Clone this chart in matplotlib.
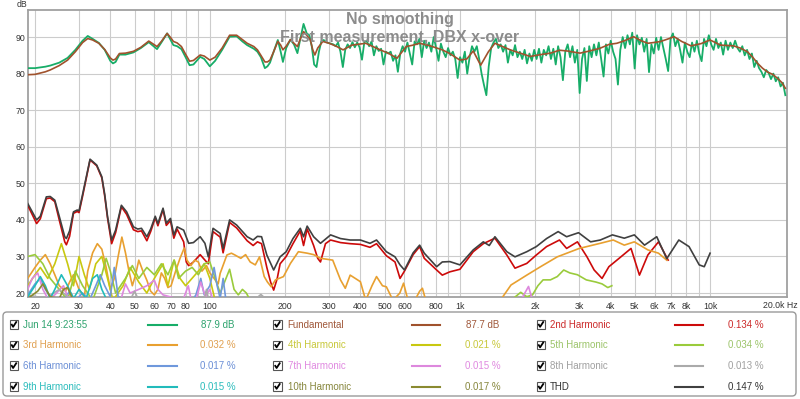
import numpy as np
import matplotlib.pyplot as plt
from matplotlib.patches import FancyBboxPatch, Rectangle

plt.rcParams['font.family'] = ['Liberation Sans', 'DejaVu Sans']

# ---------------- data ----------------
# measurement (raw, no smoothing): smooth low end + noisy upper band
meas_lf_hz = [18.7, 20, 22, 23, 25, 27, 29, 31, 32.5, 34,
              36, 38, 40, 41, 42, 43.5, 46, 49.5, 53, 57,
              61.5, 64, 67.5, 70, 71.5, 74, 77, 80, 83, 86,
              91.5, 95, 100, 105, 112, 120, 128, 135, 141, 150,
              155, 160, 166, 170, 174, 180, 187, 192, 196, 202,
              210, 217, 224, 230, 237, 244]
meas_lf_db = [81.5, 81.5, 81.9, 82.2, 83.0, 84.3, 86.5, 89.0, 90.3, 89.5,
              88.4, 86.5, 83.5, 82.8, 83.2, 85.2, 85.2, 85.8, 87.0, 88.6,
              86.7, 88.5, 91.0, 89.0, 87.8, 87.5, 86.7, 84.5, 82.3, 82.5,
              84.6, 84.0, 82.0, 83.5, 86.5, 90.1, 90.2, 88.8, 87.8, 86.8,
              86.0, 84.5, 81.5, 82.0, 83.0, 86.0, 89.2, 86.0, 83.2, 87.0,
              89.3, 88.0, 85.6, 89.5, 93.6, 91.0]
# 250 Hz .. 20 kHz, log spaced samples
meas_hf_db = [90.5, 87.5, 82.5, 81.8, 86.0, 88.8, 89.2, 88.6, 88.4, 88.2,
              88.0, 87.5, 88.5, 86.0, 81.8, 86.5, 88.0, 87.0, 88.6, 87.2,
              88.5, 87.2, 83.8, 88.7, 88.9, 87.5, 88.8, 85.0, 87.5, 86.2,
              86.8, 82.5, 86.0, 85.5, 86.0, 83.5, 85.0, 80.5, 85.5, 87.5,
              86.0, 88.5, 85.5, 82.5, 88.8, 88.0, 89.5, 84.5, 89.0, 87.0,
              88.5, 86.0, 90.0, 87.0, 83.5, 88.2, 86.0, 84.5, 87.0, 85.0,
              86.0, 84.0, 78.8, 84.5, 83.0, 86.0, 80.0, 84.5, 87.5, 86.0,
              87.5, 84.0, 80.0, 76.9, 74.1, 82.0, 87.0, 88.5, 89.5, 87.0,
              88.0, 86.0, 87.8, 83.0, 86.5, 85.0, 87.8, 84.5, 86.0, 84.0,
              86.5, 82.8, 85.5, 83.5, 86.5, 84.0, 86.8, 83.0, 86.5, 85.0,
              87.5, 84.0, 86.8, 82.5, 87.5, 84.5, 78.2, 86.0, 88.0, 84.5,
              87.5, 83.0, 86.5, 74.7, 84.0, 87.0, 78.0, 87.5, 84.5, 88.0,
              85.0, 88.5, 84.0, 79.2, 88.0, 85.5, 89.0, 86.0, 84.0, 77.0,
              86.5, 90.0, 87.0, 90.5, 88.0, 91.2, 81.4, 90.5, 88.0, 89.8,
              86.0, 89.5, 80.4, 88.0, 85.5, 89.8, 86.5, 90.0, 87.0, 84.0,
              80.7, 89.5, 91.0, 87.5, 89.5, 86.5, 83.0, 88.5, 86.0, 84.5,
              88.5, 86.0, 89.0, 85.5, 83.4, 89.5, 87.5, 90.5, 88.0, 86.5,
              89.5, 87.0, 88.5, 85.2, 89.0, 86.5, 88.5, 87.0, 89.0, 87.0,
              86.0, 87.5, 85.0, 86.5, 84.0, 85.5, 81.8, 83.5, 81.5, 80.5,
              79.0, 81.0, 80.2, 78.5, 80.0, 77.9, 79.0, 76.5, 77.5, 74.1]

fund_hz = [18.7, 20, 22, 23, 25, 27, 29, 31, 32.5, 34,
           36, 38, 40, 41, 42, 43.5, 46, 49.5, 53, 57,
           61.5, 64, 67.5, 70, 71.5, 74, 77, 80, 83, 86,
           91.5, 95, 100, 105, 112, 120, 128, 135, 141, 150,
           155, 160, 166, 170, 174, 180, 187, 192, 196, 202,
           210, 217, 224, 230, 237, 244, 252, 258, 263, 270,
           283, 300, 320, 341, 370, 420, 480, 520, 560, 610,
           650, 690, 760, 850, 910, 1000, 1065, 1130, 1210, 1300,
           1380, 1590, 1760, 1910, 2100, 2300, 2500, 2680, 3020, 3300,
           3620, 3950, 4240, 4550, 4950, 5300, 5640, 6100, 6350, 6800,
           7180, 7700, 8390, 9200, 10000, 10500, 11000, 12400, 13200, 14100,
           14800, 15500, 16200, 17000, 17800, 18700, 19400, 20000]
fund_db = [79.7, 79.8, 80.5, 81.0, 82.2, 83.7, 86.0, 88.5, 89.6, 89.2,
           88.3, 86.6, 84.3, 83.7, 84.0, 85.5, 85.6, 86.1, 87.2, 88.9,
           87.4, 88.8, 91.0, 89.7, 88.8, 88.4, 87.4, 85.3, 83.4, 83.6,
           85.1, 84.8, 83.7, 84.5, 87.0, 90.5, 90.5, 89.3, 88.3, 87.4,
           86.5, 85.0, 83.2, 83.2, 83.7, 86.0, 88.8, 87.8, 86.5, 87.5,
           89.3, 88.3, 87.4, 89.5, 91.5, 90.5, 89.3, 86.5, 85.1, 87.0,
           88.8, 88.3, 87.5, 86.5, 87.8, 88.3, 86.5, 85.5, 84.2, 87.4,
           87.8, 88.3, 87.6, 86.5, 85.5, 83.7, 84.0, 86.2, 82.3, 86.0,
           88.3, 86.5, 85.5, 84.7, 85.2, 85.6, 86.4, 86.2, 85.6, 86.2,
           86.9, 88.0, 88.3, 89.0, 90.1, 89.0, 88.3, 88.6, 88.8, 89.5,
           90.1, 88.8, 87.6, 88.2, 89.2, 88.5, 87.8, 87.6, 87.0, 86.0,
           84.5, 82.8, 81.5, 80.4, 79.8, 78.6, 77.5, 76.0]

thd_hz = [18.7, 20.3, 21, 22.2, 23, 24, 25, 26.3, 26.7, 27.5,
          28.5, 29.5, 30, 31, 33.2, 35.3, 37, 38, 39, 40.5,
          42, 44.3, 46.5, 49.5, 51.5, 53.3, 56, 58, 60.5, 62,
          65, 67, 69.6, 71.8, 74, 78.6, 82.3, 86, 91.5, 95.6,
          98.6, 103, 110, 113, 120, 128, 141, 149, 155, 161,
          169, 180, 191, 202, 215, 230, 237, 245, 260, 277,
          304, 333, 364, 400, 437, 464, 508, 550, 576, 600,
          650, 690, 720, 807, 850, 911, 1000, 1130, 1240, 1310,
          1380, 1540, 1660, 1850, 2020, 2220, 2470, 2670, 2980, 3330,
          3640, 4070, 4540, 4980, 5470, 6120, 6710, 7500, 8240, 9050,
          9480, 10000]
thd_db = [44.5, 40.0, 41.0, 46.3, 46.4, 45.4, 41.0, 35.4, 34.9, 37.0,
          42.2, 42.7, 42.5, 47.0, 56.6, 55.0, 51.8, 47.0, 40.9, 34.5,
          37.2, 44.0, 42.2, 38.1, 37.5, 37.7, 35.4, 37.5, 41.0, 39.0,
          43.2, 39.1, 40.4, 35.9, 38.1, 37.2, 33.6, 33.8, 35.4, 33.6,
          29.9, 37.7, 36.3, 32.2, 40.0, 38.6, 35.4, 34.5, 35.5, 35.4,
          30.4, 26.3, 29.9, 31.3, 34.9, 37.7, 35.4, 38.3, 35.4, 33.6,
          35.9, 34.9, 34.5, 34.5, 33.6, 34.5, 31.3, 29.9, 27.7, 26.3,
          31.0, 33.1, 30.9, 27.2, 28.5, 28.6, 27.7, 31.8, 34.0, 33.0,
          35.4, 31.3, 29.9, 31.3, 32.7, 34.9, 36.8, 35.4, 36.5, 34.0,
          34.5, 35.9, 35.0, 35.9, 33.1, 35.4, 29.4, 34.5, 32.7, 27.7,
          27.2, 30.9]

h2_hz = [18.7, 20.3, 21, 22.2, 23, 24, 25, 26.3, 26.7, 27.5,
         28.5, 29.5, 30, 31, 33.2, 35.3, 37, 38, 39, 40.5,
         42, 44.3, 46.5, 49.5, 51.5, 53.3, 56, 58, 60.5, 62,
         65, 67, 69.6, 71.8, 74, 78.6, 80.5, 82.3, 86, 91.5,
         95.6, 98.6, 103, 110, 113, 120, 128, 141, 149, 155,
         161, 169, 175, 180, 186, 191, 202, 215, 230, 237,
         245, 260, 270, 277, 290, 304, 333, 364, 400, 437,
         464, 508, 550, 576, 600, 650, 690, 720, 807, 850,
         911, 1000, 1130, 1240, 1380, 1540, 1660, 1850, 2020, 2220,
         2500, 2670, 2950, 3220, 3440, 3700, 3940, 4330, 4830, 5220,
         5640, 6220, 6800]
h2_db = [44.0, 39.0, 40.3, 45.8, 46.0, 45.0, 40.0, 34.0, 33.2, 35.5,
         41.8, 42.3, 42.0, 46.5, 56.4, 54.8, 51.5, 46.5, 40.5, 33.5,
         36.5, 43.6, 41.5, 37.3, 36.8, 37.0, 34.3, 36.8, 40.6, 38.4,
         42.8, 38.5, 39.8, 35.0, 37.5, 34.0, 28.5, 27.5, 28.5, 30.5,
         29.0, 28.0, 36.8, 35.3, 31.0, 39.3, 37.8, 34.3, 33.0, 34.0,
         33.5, 27.0, 23.0, 20.8, 24.0, 28.0, 30.0, 33.5, 37.0, 33.0,
         37.5, 33.0, 29.5, 28.5, 33.5, 34.5, 33.8, 33.5, 33.3, 32.5,
         33.5, 30.2, 28.5, 24.0, 26.0, 30.5, 32.7, 29.5, 26.3, 24.9,
         25.8, 26.5, 31.3, 33.5, 35.0, 30.4, 26.8, 28.1, 30.4, 32.7,
         34.5, 32.2, 34.0, 29.9, 26.3, 24.0, 27.2, 29.5, 32.2, 24.9,
         30.4, 34.0, 29.0]

h3_hz = [18.7, 20, 21, 22, 23, 24, 25, 26.5, 27.5, 28.5,
         30, 31.5, 32.5, 34, 35.5, 37, 38.5, 40, 41.5, 43,
         44.5, 46, 47.5, 49, 50.5, 52, 54, 56, 58, 60,
         62, 64, 66, 68, 70, 73, 76, 79, 81, 84,
         87, 90, 93, 97, 100, 104, 108, 110, 117, 122,
         126, 133, 139, 145, 152, 158, 165, 170, 176, 183,
         197, 210, 226, 245, 260, 277, 310, 333, 348, 364,
         400, 420, 445, 464, 490, 508, 540, 575, 595, 620,
         660, 690, 708, 730, 800, 1000, 1300, 1450, 1600, 1850,
         2100, 2450, 3000, 3640, 4100, 4540, 4980, 5640, 6220, 6710]
h3_db = [24.0, 27.0, 29.0, 30.5, 28.0, 25.0, 22.0, 20.5, 23.0, 25.0,
         21.0, 19.0, 26.0, 31.0, 33.5, 32.0, 27.0, 21.0, 24.0, 30.0,
         35.3, 31.0, 26.0, 22.0, 25.0, 29.0, 26.0, 23.5, 20.5, 19.5,
         21.0, 25.5, 24.0, 21.5, 22.0, 26.0, 29.5, 32.3, 29.0, 27.5,
         29.0, 28.5, 26.0, 27.5, 25.5, 24.0, 22.5, 25.4, 30.4, 30.9,
         30.4, 29.5, 30.5, 28.5, 27.7, 29.9, 24.5, 23.0, 21.7, 23.6,
         24.5, 28.1, 31.3, 30.9, 30.5, 29.5, 29.0, 23.6, 21.3, 24.9,
         23.1, 18.0, 22.0, 24.5, 22.0, 21.7, 18.0, 20.0, 22.7, 18.0,
         18.0, 20.5, 21.3, 18.0, 17.0, 17.0, 17.0, 18.0, 22.2, 24.9,
         27.2, 29.9, 32.2, 33.6, 34.5, 33.1, 34.0, 31.8, 30.9, 29.0]

h4_hz = [18.7, 20, 21, 22.5, 24, 25.5, 27, 28.5, 30, 31.5,
         33, 35, 37, 39, 41, 45, 48, 52, 56, 60,
         65, 68, 72, 76, 80, 90, 95, 100, 105]
h4_db = [22, 25, 27, 24, 28, 33.5, 28, 22, 30, 25,
         21, 28, 30, 24, 18, 22, 27, 23, 20, 24,
         28, 22, 29, 24, 22, 26, 28, 24, 18]

h5_hz = [18.7, 20, 21.5, 23, 25, 27, 29, 31, 34, 37,
         38.5, 40, 42, 46, 49, 52, 56, 60, 64, 68,
         72, 75, 80, 85, 90, 95, 100, 105, 110, 113,
         120, 125, 130, 135, 140, 145, 1600, 1750, 1850, 1950,
         2050, 2150, 2300, 2450, 2600, 2750, 2950, 3200, 3500, 3700,
         3900, 4050]
h5_db = [30.0, 30.5, 28.0, 24.0, 21.0, 18.0, 26.0, 22.0, 18.0, 25.0,
         29.5, 26.0, 20.0, 24.0, 27.5, 24.0, 27.0, 25.0, 28.0, 25.0,
         29.0, 24.0, 26.0, 27.0, 25.0, 28.0, 28.5, 24.0, 20.0, 22.0,
         26.5, 21.0, 19.5, 21.0, 20.0, 18.0, 18.0, 20.2, 19.0, 19.5,
         22.0, 23.6, 23.6, 24.5, 26.3, 25.5, 25.0, 23.6, 23.0, 22.5,
         21.5, 22.0]

h6_hz = [18.7, 20, 21, 22, 23.5, 26, 27.5, 29, 31, 33,
         35, 36.5, 38, 40, 41.5, 43, 46, 85, 88, 92,
         95, 100, 104, 107, 110, 113, 116]
h6_db = [19.5, 22.5, 24.0, 21.0, 18.0, 18.0, 20.5, 18.0, 20.0, 18.0,
         22.0, 25.0, 22.0, 19.0, 27.0, 19.0, 18.0, 18.0, 19.5, 24.0,
         19.5, 22.0, 27.0, 22.0, 18.5, 24.0, 18.0]

h7_hz = [18.7, 19.5, 20.5, 21.5, 22.5, 24, 26, 27, 30, 44,
         46, 48, 52, 56, 60, 62, 65, 78, 82, 84,
         88, 92, 96, 100, 103, 1750, 1880, 1950]
h7_db = [21.0, 24.0, 25.5, 21.0, 18.5, 19.5, 22.0, 19.0, 18.0, 18.0,
         22.5, 20.0, 21.0, 22.0, 23.5, 21.0, 19.5, 18.0, 22.0, 18.5,
         18.0, 23.0, 19.0, 21.0, 18.0, 18.0, 21.8, 18.0]

h8_hz = [18.7, 22, 25, 26.5, 28, 48, 50, 52, 95, 97, 99, 150, 160, 170]
h8_db = [19.5, 18.5, 21.0, 19.5, 18.0, 18.0, 20.5, 18.0, 18.0, 21.0, 18.0, 18.0, 19.6, 18.0]

h9_hz = [18.7, 20, 21, 22, 23, 24, 25.5, 27, 28.5, 30, 32, 34, 35.5, 37, 38.5, 40]
h9_db = [19.0, 22.0, 24.5, 22.0, 18.5, 21.0, 25.0, 22.0, 18.5, 21.0, 18.5, 24.0, 25.0, 21.0, 18.5, 18.0]

h10_hz = [18.7, 20.5, 21.5, 23, 25, 26, 27, 28, 29]
h10_db = [18.5, 20.5, 22.5, 19.0, 18.5, 21.0, 21.5, 19.0, 18.0]

legend_names = ['Jun 14 9:23:55', 'Fundamental', '2nd Harmonic',
                '3rd Harmonic', '4th Harmonic', '5th Harmonic',
                '6th Harmonic', '7th Harmonic', '8th Harmonic',
                '9th Harmonic', '10th Harmonic', 'THD']
legend_values = ['87.9 dB', '87.7 dB', '0.134 %',
                 '0.032 %', '0.021 %', '0.034 %',
                 '0.017 %', '0.015 %', '0.013 %',
                 '0.015 %', '0.017 %', '0.147 %']

x_tick_hz = [20, 30, 40, 50, 60, 70, 80, 100, 200, 300, 400, 500, 600, 800,
             1000, 2000, 3000, 4000, 5000, 6000, 7000, 8000, 10000]
x_tick_labels = ['20', '30', '40', '50', '60', '70', '80', '100', '200', '300',
                 '400', '500', '600', '800', '1k', '2k', '3k', '4k', '5k',
                 '6k', '7k', '8k', '10k']
y_ticks = [20, 30, 40, 50, 60, 70, 80, 90]

# ---------------- styles ----------------
line_colors = ['#17ad68', '#a0522d', '#cc0a0a', '#e8a030', '#c8c810', '#9acb3c',
               '#6f98dc', '#dd88dd', '#aaaaaa', '#22bbbb', '#8a8a30', '#404040']
text_colors = ['#2ea36e', '#a0583a', '#cc2a2a', '#e0a050', '#c8c83a', '#9cc46a',
               '#6b8fd6', '#e08ae0', '#a0a0a0', '#2bbcbc', '#86863c', '#333333']

meas_hz = meas_lf_hz + list(np.geomspace(250, 20000, len(meas_hf_db)))
meas_db = meas_lf_db + meas_hf_db

series = [(meas_hz, meas_db), (fund_hz, fund_db), (h2_hz, h2_db),
          (h3_hz, h3_db), (h4_hz, h4_db), (h5_hz, h5_db),
          (h6_hz, h6_db), (h7_hz, h7_db), (h8_hz, h8_db),
          (h9_hz, h9_db), (h10_hz, h10_db), (thd_hz, thd_db)]

W, H = 800, 399
fig = plt.figure(figsize=(W / 100, H / 100), dpi=100)
fig.patch.set_facecolor('white')

ax = fig.add_axes([27.7 / W, 1 - 296.7 / H, 759 / W, 286.7 / H])
ax.set_xscale('log')
ax.set_xlim(18.7, 20250)
ax.set_ylim(19.0, 97.4)

grid_hz = [m * d for d in (10, 100, 1000) for m in range(2 if d == 10 else 1, 10)] + [10000]
ax.set_xticks(grid_hz, minor=True)
ax.set_xticks(x_tick_hz)
ax.set_xticklabels(x_tick_labels)
ax.xaxis.set_minor_formatter(plt.NullFormatter())
ax.set_yticks(y_ticks)
ax.grid(which='both', color='#cccccc', lw=0.8)
ax.set_axisbelow(True)
ax.tick_params(which='both', length=0)
ax.tick_params(axis='x', pad=4, labelsize=6.3, labelcolor='#333333')
ax.tick_params(axis='y', pad=1.5, labelsize=6.3, labelcolor='#333333')
for sp in ax.spines.values():
    sp.set_color('#a0a0a0')
    sp.set_linewidth(1.3)

for i, (hz, db) in enumerate(series):
    lw = 1.3 if i == 0 else 1.2
    ax.plot(hz, db, color=line_colors[i], lw=lw, zorder=3 + i * 0.01)

fig.text(400 / W, 1 - 19.5 / H, 'No smoothing', ha='center', va='center',
         fontsize=11.5, fontweight='bold', color='#8c8c8c')
fig.text(400 / W, 1 - 36.5 / H, 'First measurement, DBX x-over', ha='center', va='center',
         fontsize=11.5, fontweight='bold', color='#8c8c8c')
fig.text(17 / W, 1 - 4.5 / H, 'dB', ha='left', va='center', fontsize=6.3, color='#333333')
fig.text(798 / W, 1 - 305.5 / H, '20.0k Hz', ha='right', va='center', fontsize=6.3, color='#333333')

# ---------------- legend panel (pixel coordinates) ----------------
lax = fig.add_axes([0, 0, 1, 1])
lax.set_xlim(0, W)
lax.set_ylim(H, 0)
lax.set_axis_off()
lax.add_patch(FancyBboxPatch((3, 312), 793, 84, boxstyle='round,pad=0,rounding_size=4',
                             ec='#9a9a9a', fc='white', lw=1))
box_x = [9.5, 273, 536.5]
name_x = [23, 287.5, 550]
line_x = [(148, 177), (412, 440), (675, 703)]
val_x = [217.5, 483, 745.5]
row_y = [324.5, 345, 365.7, 386.5]
for i, name in enumerate(legend_names):
    r, c = divmod(i, 3)
    y = row_y[r]
    bx = box_x[c]
    lax.add_patch(Rectangle((bx, y - 4.5), 8.5, 8.5, fc='white', ec='#555555', lw=0.8))
    lax.plot([bx + 1.8, bx + 3.6, bx + 7.2], [y - 0.6, y + 2.3, y - 3.2],
             color='black', lw=1.3, solid_capstyle='butt')
    lax.text(name_x[c], y, name, ha='left', va='center', fontsize=7, color=text_colors[i])
    lax.plot(line_x[c], [y, y], color=line_colors[i], lw=1.5)
    lax.text(val_x[c], y, legend_values[i], ha='center', va='center', fontsize=7,
             color=text_colors[i])

fig.savefig('out.png', dpi=100, facecolor='white')
